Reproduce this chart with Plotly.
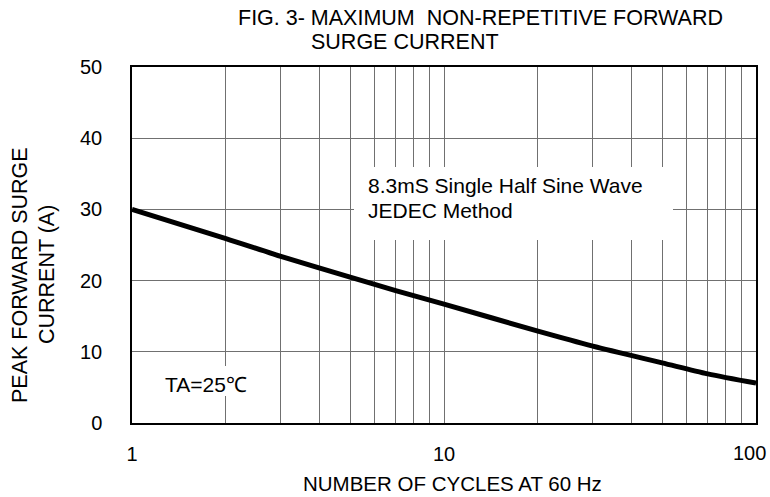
import plotly.graph_objects as go

# Data
cycles = [1, 2, 3, 5, 7, 10, 20, 30, 50, 70, 100]
surge_current = [30.0, 25.9, 23.4, 20.5, 18.6, 16.7, 12.9, 10.8, 8.45, 6.9, 5.6]

x_grid_vals = [1, 2, 3, 4, 5, 6, 7, 8, 9, 10, 20, 30, 40, 50, 60, 70, 80, 90, 100]
x_labels = {1: "1", 10: "10", 100: "100"}
y_tick_vals = [0, 10, 20, 30, 40, 50]

FONT = "Liberation Sans, Arial, sans-serif"

L, R, T, B = 132, 756, 67, 423
W, H = 770, 497
pw, ph = R - L, B - T

def px(xp):
    return (xp - L) / pw

def py(yp):
    return (B - yp) / ph

# the last label ("100") sits at the window edge, so it is placed left-shifted
x_tick_text = [x_labels.get(v, "") if v != x_grid_vals[-1] else "" for v in x_grid_vals]

fig = go.Figure()
fig.add_trace(go.Scatter(
    x=cycles, y=surge_current, mode="lines",
    line=dict(color="black", width=5, shape="spline", smoothing=0.8),
    showlegend=False, hoverinfo="skip",
))

fig.update_layout(
    width=W, height=H,
    margin=dict(l=L, r=W - R, t=T, b=H - B),
    paper_bgcolor="white", plot_bgcolor="white",
    font=dict(family=FONT, color="black"),
    xaxis=dict(
        type="log", range=[0, 2],
        tickvals=x_grid_vals, ticktext=x_tick_text,
        showgrid=True, gridcolor="#707070", gridwidth=1,
        showline=True, linecolor="black", linewidth=1.5, mirror=True,
        ticks="", tickfont=dict(size=20, family=FONT), ticklabelstandoff=12,
        zeroline=False, automargin=False,
    ),
    yaxis=dict(
        range=[0, 50], tickvals=y_tick_vals,
        showgrid=True, gridcolor="#707070", gridwidth=1,
        showline=True, linecolor="black", linewidth=1.5, mirror=True,
        ticks="", tickfont=dict(size=20, family=FONT), ticklabelstandoff=24,
        zeroline=False, automargin=False,
    ),
    shapes=[
        dict(type="rect", xref="paper", yref="paper", layer="above",
             x0=px(354), x1=px(673), y0=py(240), y1=py(167),
             fillcolor="white", line=dict(width=0)),
        dict(type="rect", xref="paper", yref="paper", layer="above",
             x0=px(152), x1=px(258), y0=py(396), y1=py(366),
             fillcolor="white", line=dict(width=0)),
    ],
)

annos = [
    dict(text="FIG. 3- MAXIMUM  NON-REPETITIVE FORWARD", x=px(236), y=py(18),
         xanchor="left", yanchor="middle", size=21.5),
    dict(text="SURGE CURRENT", x=px(309), y=py(42),
         xanchor="left", yanchor="middle", size=21.5),
    dict(text="8.3mS Single Half Sine Wave", x=px(366), y=py(185),
         xanchor="left", yanchor="middle", size=21),
    dict(text="JEDEC Method", x=px(366), y=py(210),
         xanchor="left", yanchor="middle", size=21),
    dict(text="TA=25℃", x=px(163), y=py(384),
         xanchor="left", yanchor="middle", size=21),
    dict(text="NUMBER OF CYCLES AT 60 Hz", x=px(452), y=py(483),
         xanchor="center", yanchor="middle", size=20.5),
    dict(text="PEAK FORWARD SURGE", x=px(20), y=py(275),
         xanchor="center", yanchor="middle", size=21.5, textangle=-90),
    dict(text="CURRENT (A)", x=px(47), y=py(275),
         xanchor="center", yanchor="middle", size=21.5, textangle=-90),
    dict(text=x_labels[x_grid_vals[-1]], x=px(768), y=py(453),
         xanchor="right", yanchor="middle", size=20),
]
for a in annos:
    fig.add_annotation(
        text=a["text"], x=a["x"], y=a["y"], xref="paper", yref="paper",
        xanchor=a["xanchor"], yanchor=a["yanchor"], showarrow=False,
        textangle=a.get("textangle", 0),
        font=dict(size=a["size"], family=FONT, color="black"),
    )

fig.write_html(
    "out.html",
    config={"displayModeBar": False},
    post_script="document.body.style.margin='0';document.body.style.padding='0';",
)
